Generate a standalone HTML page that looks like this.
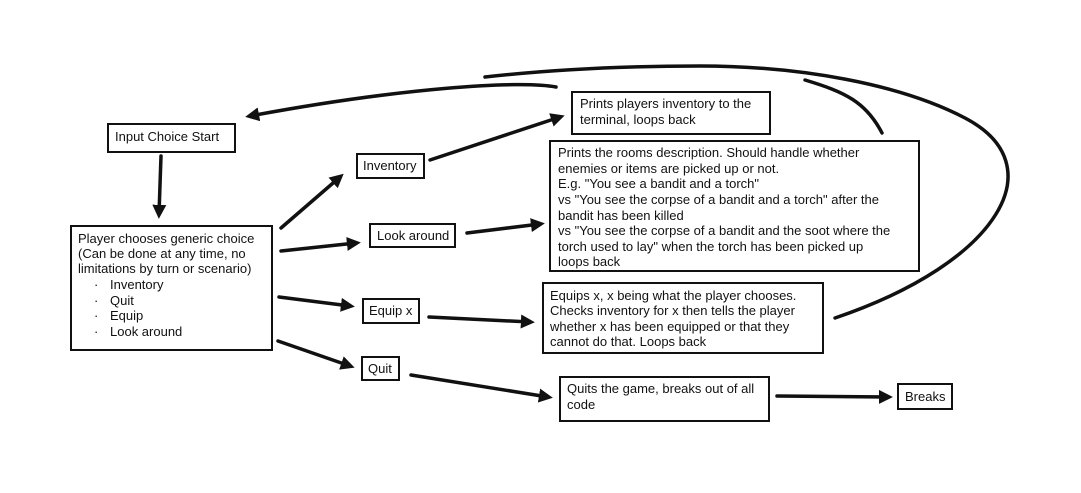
<!DOCTYPE html>
<html><head><meta charset="utf-8"><style>
html,body{margin:0;padding:0;background:#fff;}
svg{display:block;}
text{font-family:"Liberation Sans",sans-serif;font-size:13px;fill:#111;}
.b{fill:#fff;stroke:#111;stroke-width:2;}
.l{fill:none;stroke:#111;stroke-width:3.5;stroke-linecap:round;}
</style></head><body>
<svg width="1081" height="493" viewBox="0 0 1081 493">
<defs><marker id="a" markerWidth="4" markerHeight="4" refX="2.6" refY="2" orient="auto" markerUnits="strokeWidth"><path d="M0,0 L4,2 L0,4 z" fill="#111"/></marker></defs>
<path class="l" d="M161,156 L159,214" marker-end="url(#a)"/>
<path class="l" d="M281,228 L340,177" marker-end="url(#a)"/>
<path class="l" d="M281,251 L356,243" marker-end="url(#a)"/>
<path class="l" d="M279,297 L350,306" marker-end="url(#a)"/>
<path class="l" d="M278,341 L350,366" marker-end="url(#a)"/>
<path class="l" d="M430,160 L560,117" marker-end="url(#a)"/>
<path class="l" d="M467,233 L540,224" marker-end="url(#a)"/>
<path class="l" d="M429,317 L530,322" marker-end="url(#a)"/>
<path class="l" d="M411,375 L548,397" marker-end="url(#a)"/>
<path class="l" d="M777,396 L888,397" marker-end="url(#a)"/>
<path class="l" d="M556,87 C520,80 400,88 250,116" marker-end="url(#a)"/>
<path class="l" d="M835,318 C1000,262 1055,165 965,118 C900,84 800,66 700,66 C600,66 530,72 485,77"/>
<path class="l" d="M882,133 C866,102 845,92 805,80"/>
<rect class="b" x="108" y="124" width="127" height="28"/>
<text x="115" y="141">Input Choice Start</text>
<rect class="b" x="71" y="226" width="201" height="124"/>
<text x="78" y="243">Player chooses generic choice</text>
<text x="78" y="258">(Can be done at any time, no</text>
<text x="78" y="273">limitations by turn or scenario)</text>
<text x="94" y="289">·</text><text x="110" y="289">Inventory</text>
<text x="94" y="305">·</text><text x="110" y="305">Quit</text>
<text x="94" y="320">·</text><text x="110" y="320">Equip</text>
<text x="94" y="336">·</text><text x="110" y="336">Look around</text>
<rect class="b" x="357" y="154" width="67" height="24"/>
<text x="363" y="170">Inventory</text>
<rect class="b" x="370" y="224" width="85" height="23"/>
<text x="377" y="240">Look around</text>
<rect class="b" x="363" y="299" width="56" height="24"/>
<text x="369" y="315">Equip x</text>
<rect class="b" x="362" y="357" width="37" height="23"/>
<text x="368" y="373">Quit</text>
<rect class="b" x="572" y="92" width="198" height="42"/>
<text x="580" y="108">Prints players inventory to the</text>
<text x="580" y="124">terminal, loops back</text>
<rect class="b" x="550" y="141" width="369" height="130"/>
<text x="558" y="157">Prints the rooms description. Should handle whether</text>
<text x="558" y="173">enemies or items are picked up or not.</text>
<text x="558" y="188">E.g. "You see a bandit and a torch"</text>
<text x="558" y="204">vs "You see the corpse of a bandit and a torch" after the</text>
<text x="558" y="220">bandit has been killed</text>
<text x="558" y="235">vs "You see the corpse of  a bandit and the soot where the</text>
<text x="558" y="251">torch used to lay" when the torch has been picked up</text>
<text x="558" y="266">loops back</text>
<rect class="b" x="543" y="283" width="280" height="70"/>
<text x="550" y="300">Equips x, x being what the player chooses.</text>
<text x="550" y="315">Checks inventory for x then tells the player</text>
<text x="550" y="331">whether x has been equipped or that they</text>
<text x="550" y="346">cannot do that. Loops back</text>
<rect class="b" x="560" y="377" width="209" height="44"/>
<text x="567" y="393">Quits the game, breaks out of all</text>
<text x="567" y="409">code</text>
<rect class="b" x="898" y="384" width="54" height="25"/>
<text x="905" y="401">Breaks</text>
</svg>
</body></html>
